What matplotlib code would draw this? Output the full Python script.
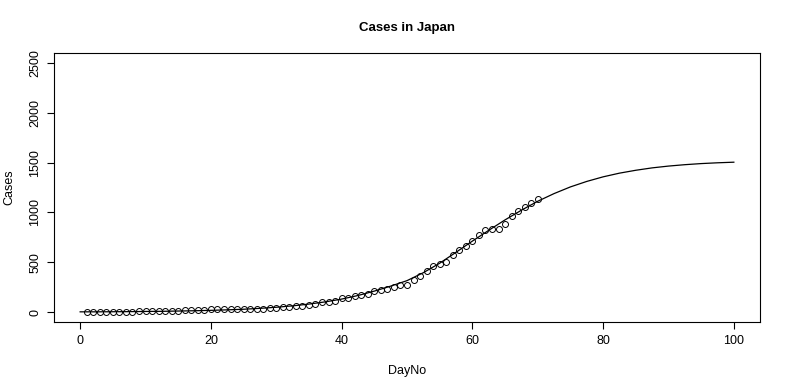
import matplotlib
matplotlib.use("Agg")
import matplotlib.pyplot as plt

plt.rcParams['font.family'] = ['Liberation Sans', 'DejaVu Sans']

# observed cumulative cases, day 1..70
day_no = list(range(1, 71))
cases = [1, 1, 2, 2, 3, 4, 4, 5, 6, 7, 8, 9,
         10, 12, 14, 16, 18, 20, 24, 26,
         27, 28, 29, 30, 31, 32, 33, 35, 38, 42, 46, 52, 58,
         63, 67, 80, 97, 104, 114, 137, 144, 157, 174, 184, 208, 218, 235,
         248, 268, 275, 325, 366, 409, 459, 486, 500, 570, 620, 661, 711,
         770, 822, 829, 836, 879, 963, 1013, 1057, 1090, 1131]

# fitted curve, read every 2.5 days
fit_day = [i * 2.5 for i in range(41)]
fit_cases = [2, 2, 3, 4, 6, 7, 10, 13, 17, 22, 28, 37, 48, 62, 80, 102,
             130, 166, 210, 260, 315, 395, 490, 600, 712, 820, 925, 1022,
             1112, 1189, 1256, 1311, 1357, 1394, 1423, 1447, 1465, 1479,
             1490, 1498, 1504]

x_ticks = [0, 20, 40, 60, 80, 100]
y_ticks = [0, 500, 1000, 1500, 2000, 2500]

fig = plt.figure(figsize=(7.88, 3.89), dpi=100)
ax = fig.add_axes([54 / 788, 1 - 322 / 389, 706 / 788, 269 / 389])

ax.plot(day_no, cases, 'o', mfc='none', mec='black', ms=4.3, mew=0.7)
ax.plot(fit_day, fit_cases, color='black', lw=0.9)

ax.set_xlim(-4, 104)
ax.set_ylim(-100, 2600)
ax.set_xticks(x_ticks)
ax.set_yticks(y_ticks)
ax.set_yticklabels([str(v) for v in y_ticks], rotation=90, va='center')
ax.tick_params(axis='both', labelsize=9, length=5, width=0.8, pad=4)

for s in ax.spines.values():
    s.set_linewidth(0.8)

ax.set_xlabel('DayNo', fontsize=9, labelpad=13)
ax.set_ylabel('Cases', fontsize=9, labelpad=10)
ax.set_title('Cases in Japan', fontsize=9.5, fontweight='bold', pad=16)

fig.savefig('out.png', dpi=100)
